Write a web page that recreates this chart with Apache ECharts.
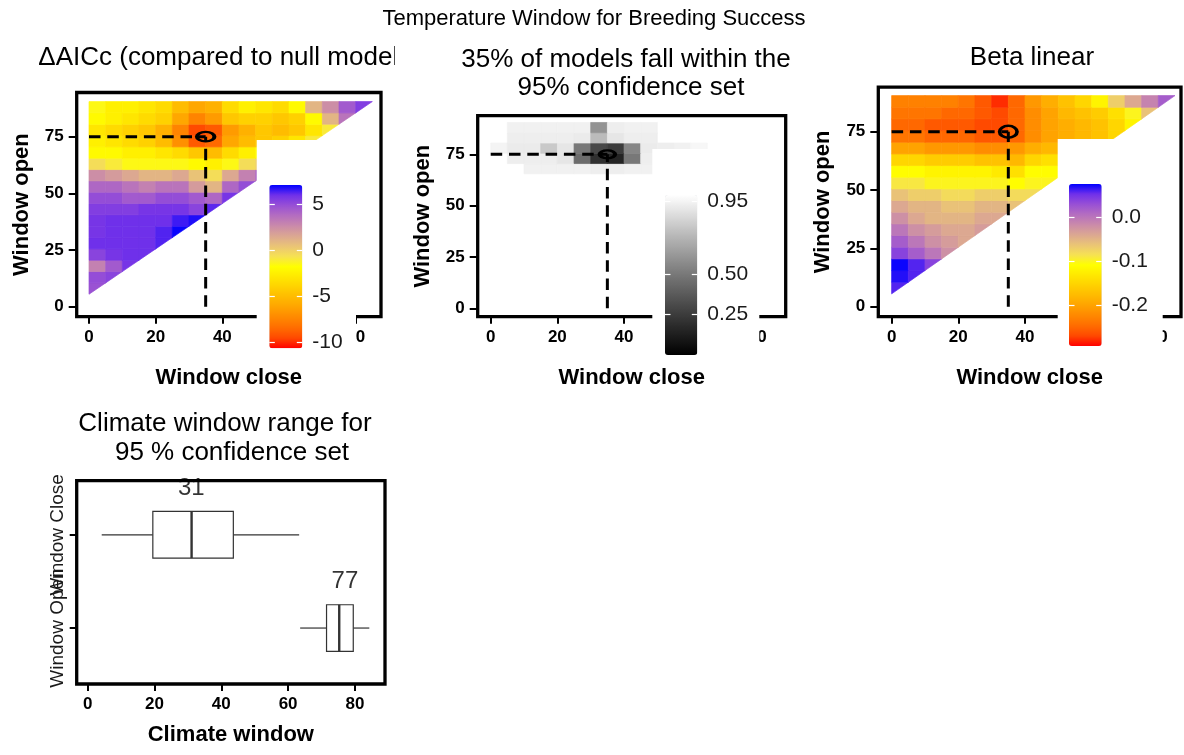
<!DOCTYPE html>
<html>
<head>
<meta charset="utf-8">
<script src="https://cdn.jsdelivr.net/npm/echarts@6/dist/echarts.min.js"></script>
<style>html,body{margin:0;padding:0;background:#fff}#c{width:1184px;height:755px}</style>
</head>
<body>
<div id="c"></div>
<script>
// ---------------- DATA ----------------
const closeCentres = [2.5, 7.5, 12.5, 17.5, 22.5, 27.5, 32.5, 37.5, 42.5, 47.5, 52.5, 57.5, 62.5, 67.5, 72.5, 77.5, 82.5];
const openCentres = [8, 13, 18, 23, 28, 33, 38, 43, 48, 53, 58, 63, 68, 73, 78, 83, 88];

// rows from bottom (open 8) to top (open 88); entry i = close column i
const deltaAICcRows = [
  [4.8],
  [5, 5.3],
  [3, 4.5, 5.8],
  [5.3, 5.8, 6, 6],
  [6, 6, 6, 6, 6.3],
  [5.8, 6, 6, 6, 6.3, 7],
  [5.8, 6, 6, 6, 6, 6.5, 6.8],
  [5.5, 5.5, 5.5, 5.8, 5.8, 5.8, 5.3, 6.2],
  [5, 5, 4.5, 4.5, 5, 5, 4.5, 4, 5.8],
  [4, 4, 3.5, 3, 3.5, 3.5, 2, 1, 4, 5],
  [2.5, 2, 1.5, 1, 1, 1.5, 0.5, -0.5, 1.5, 3, 4],
  [-0.5, -1, -1.5, -1.5, -1.5, -1.5, -2, -2.5, -1.5, -0.5, 0, 0.5],
  [-2, -2, -2.5, -2.5, -3, -3.5, -4.5, -5, -3.5, -2.5, -2, -1.5, -1],
  [-2.5, -3, -3.5, -4, -5, -7, -9, -8.5, -6, -5, -4.5, -4, -3, -1],
  [-3, -3.5, -4, -4.5, -5.5, -7.5, -9.5, -9, -6.5, -5.5, -4.5, -5, -4.5, -3, -1],
  [-2, -2.5, -3, -3.5, -4, -6, -7.5, -6.5, -4.5, -4, -4, -4.5, -4, -2, 1, 3.5],
  [-1.5, -2.5, -2.5, -3, -3.5, -5, -6, -5.5, -3.5, -2.5, -3, -3.5, -2, 1, 2.5, 4.5, 5.5]
];

const confidenceRows = [
  [null], [null, null], [null, null, null], [null, null, null, null],
  [null, null, null, null, null], [null, null, null, null, null, null],
  [null, null, null, null, null, null, null], [null, null, null, null, null, null, null, null],
  [null, null, null, null, null, null, null, null, null],
  [null, null, null, null, null, null, null, null, null, null],
  [null, null, null, null, null, null, null, null, null, null, null],
  [null, null, null, null, null, null, null, null, null, null, null, null],
  [null, null, 0.94, 0.94, 0.94, 0.94, 0.93, 0.93, 0.94, 0.94, null, null, null],
  [null, 0.93, 0.93, 0.93, 0.9, 0.45, 0.2, 0.15, 0.5, 0.93, null, null, null, null],
  [0.95, 0.92, 0.92, 0.8, 0.9, 0.5, 0.3, 0.25, 0.55, 0.92, 0.93, 0.94, 0.96, null, null],
  [null, 0.93, 0.93, 0.93, 0.93, 0.92, 0.75, 0.9, 0.93, 0.93, null, null, null, null, null, null],
  [null, 0.94, 0.94, 0.94, 0.94, 0.94, 0.6, 0.93, 0.94, 0.94, null, null, null, null, null, null, null]
];

const betaRows = [
  [0.06],
  [0.07, 0.06],
  [0.075, 0.06, 0.04],
  [0.04, 0.02, 0.0, -0.02],
  [0.02, 0.0, -0.02, -0.03, -0.04],
  [0.0, -0.02, -0.03, -0.04, -0.04, -0.03],
  [-0.02, -0.04, -0.05, -0.05, -0.05, -0.04, -0.04],
  [-0.04, -0.05, -0.05, -0.06, -0.06, -0.05, -0.05, -0.06],
  [-0.06, -0.07, -0.07, -0.08, -0.08, -0.07, -0.07, -0.08, -0.08],
  [-0.09, -0.09, -0.1, -0.1, -0.1, -0.1, -0.1, -0.11, -0.1, -0.1],
  [-0.11, -0.11, -0.12, -0.12, -0.12, -0.12, -0.13, -0.14, -0.11, -0.11, -0.11],
  [-0.15, -0.15, -0.16, -0.16, -0.16, -0.17, -0.17, -0.18, -0.15, -0.14, -0.13, -0.13],
  [-0.2, -0.2, -0.21, -0.21, -0.21, -0.22, -0.22, -0.21, -0.19, -0.18, -0.17, -0.16, -0.15],
  [-0.24, -0.24, -0.25, -0.25, -0.25, -0.26, -0.26, -0.25, -0.22, -0.2, -0.19, -0.18, -0.17, -0.15],
  [-0.25, -0.25, -0.26, -0.26, -0.26, -0.27, -0.27, -0.25, -0.22, -0.2, -0.19, -0.18, -0.17, -0.15, -0.12],
  [-0.24, -0.24, -0.24, -0.25, -0.25, -0.26, -0.27, -0.25, -0.22, -0.2, -0.18, -0.17, -0.16, -0.14, -0.1, -0.06],
  [-0.23, -0.23, -0.23, -0.23, -0.24, -0.26, -0.28, -0.25, -0.21, -0.19, -0.17, -0.15, -0.12, -0.07, -0.04, -0.01, 0.02]
];

const bestClose = 35;
const bestOpen = 75;

const xTicks = [0, 20, 40, 60, 80];
const yTicks = [0, 25, 50, 75];

const aiccRange = [-10.65, 7.1];
const ciRange = [0, 0.99];
const betaRange = [-0.294, 0.0772];
const aiccLegendTicks = [5, 0, -5, -10];
const ciLegendTicks = [0.95, 0.5, 0.25];
const betaLegendTicks = [0, -0.1, -0.2];

const boxCategories = ['Window Open', 'Window Close'];
const boxPositions = [1, 2];
const boxStats = [
  [63.6, 71.5, 75.3, 79.5, 84.3],
  [4.2, 19.5, 31.1, 43.6, 63.3]
];
const boxLabels = [77, 31];

// ---------------- STYLE / LAYOUT ----------------
const FONT = "'Liberation Sans', Arial, Helvetica, sans-serif";
const CELL = 5;
const warmCool = ['#FF0000', '#FF4900', '#FF6C00', '#FF8800', '#FFA200', '#FFBA00', '#FFD100', '#FFE800',
  '#FFFF00', '#F6E153', '#EAC476', '#DBA792', '#CA8AAA', '#B46DC0', '#9850D5', '#7030EA', '#0000FF'];
const greys = ['#000000', '#3B3B3B', '#777777', '#B9B9B9', '#FFFFFF'];

const panels = [
  {grid: {left: 76.7, top: 92.5, width: 304.3, height: 224.2}, x: [-3.69, 87.6], y: [-4.41, 94.5], ring: [17.5, 9.5]},
  {grid: {left: 477.7, top: 115.7, width: 308, height: 201}, x: [-3.9, 88.5], y: [-4.09, 93.8], ring: [15.5, 8]},
  {grid: {left: 878.3, top: 87.2, width: 302.7, height: 229.5}, x: [-4.0, 86.8], y: [-4.29, 94.1], ring: [17.5, 12]}
];
const boxPanel = {grid: {left: 76.7, top: 480.7, width: 308.3, height: 203.3}, x: [-3.29, 89.0], y: [0.4, 2.58]};

const legends = [
  {bg: [256.7, 140, 99.3, 216], bar: [269.3, 185, 33, 163.3], range: aiccRange, ticks: aiccLegendTicks, colors: warmCool, fmt: v => String(v)},
  {bg: [652.3, 149, 107, 216], bar: [665, 195, 32.3, 160], range: ciRange, ticks: ciLegendTicks, colors: greys, fmt: v => v.toFixed(2)},
  {bg: [1057.7, 139, 105, 216], bar: [1069, 184, 32.7, 162], range: betaRange, ticks: betaLegendTicks, colors: warmCool, fmt: v => v.toFixed(1)}
];

function buildCells(rows) {
  const out = [];
  rows.forEach((row, j) => row.forEach((v, i) => {
    if (v === null || v === undefined) return;
    out.push([closeCentres[i], openCentres[j], v, i === j ? 1 : 0]);
  }));
  return out;
}

function heatRender(params, api) {
  const c = api.value(0), o = api.value(1), diag = api.value(3);
  const h = CELL / 2;
  const color = api.visual('color');
  const pts = diag
    ? [[c - h, o - h], [c + h, o + h], [c - h, o + h]]
    : [[c - h, o - h], [c + h, o - h], [c + h, o + h], [c - h, o + h]];
  return {
    type: 'polygon',
    shape: {points: pts.map(p => api.coord(p))},
    style: {fill: color, stroke: color, lineWidth: 0.7}
  };
}

const tickLabelStyle = {fontFamily: FONT, fontSize: 17, fontWeight: 'bold', color: '#000'};
const axisNameStyle = {fontFamily: FONT, fontSize: 22, fontWeight: 'bold', color: '#000'};
const noLine = {show: false, onZero: false};

const grids = [], xAxes = [], yAxes = [], series = [], visualMaps = [], graphics = [];

panels.forEach((p, k) => {
  grids.push(Object.assign({show: true, borderColor: '#000', borderWidth: 3.3, backgroundColor: '#fff', containLabel: false, outerBoundsMode: 'none'}, p.grid));
  xAxes.push({
    gridIndex: k, type: 'value', min: p.x[0], max: p.x[1], position: 'bottom',
    name: 'Window close', nameLocation: 'middle', nameGap: 50, nameTextStyle: axisNameStyle, nameMoveOverlap: false,
    axisLine: noLine, splitLine: {show: false},
    axisTick: {show: true, inside: false, length: 7, customValues: xTicks, lineStyle: {color: '#000', width: 2}},
    axisLabel: Object.assign({show: true, inside: false, margin: 12, customValues: xTicks, hideOverlap: false, showMinLabel: true, showMaxLabel: true}, tickLabelStyle)
  });
  yAxes.push({
    gridIndex: k, type: 'value', min: p.y[0], max: p.y[1], position: 'left',
    name: 'Window open', nameLocation: 'middle', nameGap: 44, nameTextStyle: axisNameStyle, nameMoveOverlap: false,
    axisLine: noLine, splitLine: {show: false},
    axisTick: {show: true, inside: false, length: 8, customValues: yTicks, lineStyle: {color: '#000', width: 2}},
    axisLabel: Object.assign({show: true, inside: false, margin: 13, customValues: yTicks, hideOverlap: false, showMinLabel: true, showMaxLabel: true}, tickLabelStyle)
  });
});

// boxplot panel grid/axes (index 3)
grids.push(Object.assign({show: true, borderColor: '#000', borderWidth: 3.3, backgroundColor: '#fff', containLabel: false, outerBoundsMode: 'none'}, boxPanel.grid));
xAxes.push({
  gridIndex: 3, type: 'value', min: boxPanel.x[0], max: boxPanel.x[1], position: 'bottom',
  name: 'Climate window', nameLocation: 'middle', nameGap: 40, nameTextStyle: axisNameStyle, nameMoveOverlap: false,
  axisLine: noLine, splitLine: {show: false},
  axisTick: {show: true, inside: false, length: 7, customValues: xTicks, lineStyle: {color: '#000', width: 2}},
  axisLabel: Object.assign({show: true, margin: 12, customValues: xTicks, hideOverlap: false, showMinLabel: true, showMaxLabel: true}, tickLabelStyle)
});
// one category label per axis so both (overlapping) labels are drawn
boxPositions.forEach((pos, k) => {
  yAxes.push({
    gridIndex: 3, type: 'value', min: boxPanel.y[0], max: boxPanel.y[1], position: 'left', offset: 0,
    axisLine: noLine, splitLine: {show: false},
    axisTick: {show: true, inside: false, length: 7, customValues: [pos], lineStyle: {color: '#000', width: 2}},
    axisLabel: {show: true, margin: 9, rotate: 90, customValues: [pos], hideOverlap: false, showMinLabel: true, showMaxLabel: true,
      formatter: () => boxCategories[k], fontFamily: FONT, fontSize: 19, color: '#1a1a1a'}
  });
});

// colourbar grids/axes (grid 4,5,6)
legends.forEach((L, k) => {
  const gi = 4 + k;
  grids.push({show: false, left: L.bar[0], top: L.bar[1], width: L.bar[2], height: L.bar[3], containLabel: false, outerBoundsMode: 'none'});
  xAxes.push({gridIndex: gi, type: 'value', show: false, min: 0, max: 1, axisLine: noLine});
});
legends.forEach((L, k) => {
  const gi = 4 + k;
  yAxes.push({
    gridIndex: gi, type: 'value', position: 'right', min: L.range[0], max: L.range[1], z: 6,
    axisLine: noLine, splitLine: {show: false},
    axisTick: {show: true, inside: true, length: 5.5, customValues: L.ticks, lineStyle: {color: '#fff', width: 1.2}},
    axisLabel: {show: true, margin: 10, customValues: L.ticks, formatter: L.fmt, hideOverlap: false, showMinLabel: true, showMaxLabel: true, fontFamily: FONT, fontSize: 21, color: '#1a1a1a'}
  });
});
legends.forEach((L, k) => {
  const gi = 4 + k;
  yAxes.push({
    gridIndex: gi, type: 'value', position: 'left', min: L.range[0], max: L.range[1], z: 6,
    axisLine: noLine, splitLine: {show: false},
    axisTick: {show: true, inside: true, length: 5.5, customValues: L.ticks, lineStyle: {color: '#fff', width: 1.2}},
    axisLabel: {show: false}
  });
});

// heatmap series 0..2
[deltaAICcRows, confidenceRows, betaRows].forEach((rows, k) => {
  series.push({
    type: 'custom', xAxisIndex: k, yAxisIndex: k, renderItem: heatRender,
    encode: {x: 0, y: 1}, data: buildCells(rows), z: 2, silent: true, clip: false
  });
});

// dashed guide lines and rings
panels.forEach((p, k) => {
  const ls = {color: '#000', width: 3, type: [11.5, 6.8]};
  series.push({type: 'line', xAxisIndex: k, yAxisIndex: k, data: [[0, bestOpen], [bestClose, bestOpen]],
    symbol: 'none', lineStyle: ls, z: 3, silent: true});
  series.push({type: 'line', xAxisIndex: k, yAxisIndex: k, data: [[bestClose, 0], [bestClose, bestOpen]],
    symbol: 'none', lineStyle: ls, z: 3, silent: true});
});
panels.forEach((p, k) => {
  series.push({type: 'scatter', xAxisIndex: k, yAxisIndex: k, data: [[bestClose, bestOpen]],
    symbol: 'circle', symbolSize: p.ring,
    itemStyle: {color: 'rgba(0,0,0,0)', borderColor: '#000', borderWidth: 3, opacity: 1}, z: 4, silent: true});
});

// boxplot
const BOX_HALF = 0.25;
series.push({
  type: 'custom', xAxisIndex: 3, yAxisIndex: 3, silent: true, z: 2,
  encode: {x: [1, 2, 3, 4, 5], y: 0},
  data: boxStats.map((s, k) => [boxPositions[k]].concat(s)),
  renderItem: function (params, api) {
    const y = api.value(0);
    const pLo = api.coord([api.value(1), y]);
    const pQ1 = api.coord([api.value(2), y]);
    const pMed = api.coord([api.value(3), y]);
    const pQ3 = api.coord([api.value(4), y]);
    const pHi = api.coord([api.value(5), y]);
    const half = api.size([0, BOX_HALF])[1];
    const yc = pLo[1];
    const st = {stroke: '#333333', lineWidth: 1.2, fill: null};
    return {type: 'group', children: [
      {type: 'line', shape: {x1: pLo[0], y1: yc, x2: pQ1[0], y2: yc}, style: st},
      {type: 'line', shape: {x1: pQ3[0], y1: yc, x2: pHi[0], y2: yc}, style: st},
      {type: 'rect', shape: {x: pQ1[0], y: yc - half, width: pQ3[0] - pQ1[0], height: 2 * half}, style: {stroke: '#333333', lineWidth: 1.2, fill: '#fff'}},
      {type: 'line', shape: {x1: pMed[0], y1: yc - half, x2: pMed[0], y2: yc + half}, style: {stroke: '#333333', lineWidth: 2.4}}
    ]};
  }
});
series.push({
  type: 'scatter', xAxisIndex: 3, yAxisIndex: 3, silent: true, z: 3,
  data: boxLabels.map((v, k) => [v, boxPositions[k] + 0.5]),
  symbol: 'circle', symbolSize: 1, itemStyle: {color: 'rgba(0,0,0,0)'},
  label: {show: true, position: 'inside', formatter: p => String(p.value[0]), fontFamily: FONT, fontSize: 24, color: '#000'}
});

// visual maps (colour bars)
legends.forEach((L, k) => {
  visualMaps.push({
    type: 'continuous', seriesIndex: k, dimension: 2, min: L.range[0], max: L.range[1],
    left: L.bar[0], top: L.bar[1], itemWidth: L.bar[2], itemHeight: L.bar[3],
    orient: 'vertical', calculable: false, realtime: false, hoverLink: false, padding: 0,
    showLabel: false, inRange: {color: L.colors}, z: 5
  });
});

// legend white backgrounds
legends.forEach(L => {
  graphics.push({type: 'rect', shape: {x: L.bg[0], y: L.bg[1], width: L.bg[2], height: L.bg[3]},
    style: {fill: '#ffffff'}, z: 3, silent: true});
});

function txt(x, y, text, size, align) {
  return {type: 'text', x: x, y: y, z: 10, silent: true,
    style: {text: text, fontSize: size, fontFamily: FONT, fill: '#000',
      textAlign: align || 'center', align: align || 'center', textVerticalAlign: 'middle', verticalAlign: 'middle'}};
}
graphics.push(txt(594, 19, 'Temperature Window for Breeding Success', 22));
graphics.push(txt(38.3, 57.5, 'ΔAICc (compared to null model)', 26, 'left'));
graphics.push({type: 'rect', shape: {x: 394.7, y: 35, width: 50, height: 45}, style: {fill: '#fff'}, z: 11, silent: true});
graphics.push(txt(626, 60, '35% of models fall within the', 26));
graphics.push(txt(631, 88.3, '95% confidence set', 26));
graphics.push(txt(1032, 57.5, 'Beta linear', 26));
graphics.push(txt(225, 424.2, 'Climate window range for', 26));
graphics.push(txt(232, 452.5, '95 % confidence set', 26));

const chart = echarts.init(document.getElementById('c'), null, {renderer: 'canvas'});
chart.setOption({
  animation: false,
  backgroundColor: '#ffffff',
  textStyle: {fontFamily: FONT},
  grid: grids,
  xAxis: xAxes,
  yAxis: yAxes,
  visualMap: visualMaps,
  series: series,
  graphic: {elements: graphics}
});
</script>
</body>
</html>
